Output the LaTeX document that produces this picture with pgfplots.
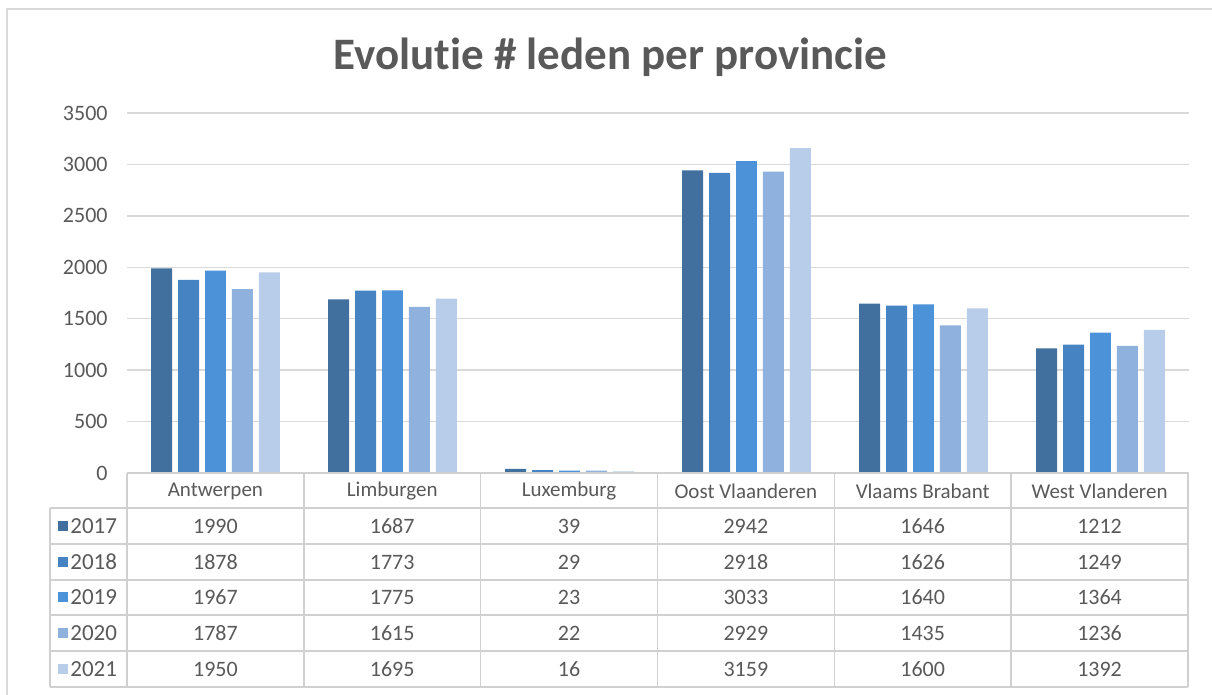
\documentclass[border=0pt]{standalone}
\usepackage{pgfplots}
\usepackage{pgfplotstable}
\pgfplotsset{compat=1.18}
\usepackage{fontspec}
\setmainfont{Carlito}[Ligatures=NoCommon]
\definecolor{c2017}{HTML}{41709F}
\definecolor{c2018}{HTML}{4683C3}
\definecolor{c2019}{HTML}{4C92D9}
\definecolor{c2020}{HTML}{8FB1DE}
\definecolor{c2021}{HTML}{B8CDE9}
\definecolor{txt}{HTML}{595959}
\definecolor{gridc}{HTML}{D9D9D9}
\definecolor{tabc}{HTML}{D0D0D0}
\pgfplotstableread[col sep=comma]{
idx,name,y2017,y2018,y2019,y2020,y2021
0,Antwerpen,1990,1878,1967,1787,1950
1,Limburgen,1687,1773,1775,1615,1695
2,Luxemburg,39,29,23,22,16
3,Oost Vlaanderen,2942,2918,3033,2929,3159
4,Vlaams Brabant,1646,1626,1640,1435,1600
5,West Vlanderen,1212,1249,1364,1236,1392
}\data
\begin{document}
\begin{tikzpicture}
\begin{scope}[x=0.5pt,y=-0.5pt,yshift=347.5pt]
\path[use as bounding box] (0,0) rectangle (1212,695);
\draw[gridc, line width=0.8pt] (7,695) -- (7,9) -- (1212,9);
\node[anchor=base, text=txt, font=\bfseries\fontsize{22.5}{26}\selectfont] at (610.5,69.3) {Evolutie \# leden per provincie};
\end{scope}
\begin{axis}[
  at={(63.5pt,111pt)}, anchor=south west,
  width=531pt, height=180pt, scale only axis,
  xmin=-0.5, xmax=5.5, ymin=0, ymax=3500,
  ytick={0,500,...,3500}, xtick=\empty,
  axis line style={draw=none},
  ymajorgrids, grid style={color=gridc, line width=0.7pt},
  major tick length=0pt,
  /pgf/number format/assume math mode=true,
  /pgf/number format/1000 sep={},
  yticklabel style={inner sep=0pt, xshift=-9.5pt, text=txt, font=\fontsize{11}{12}\selectfont},
  ybar, bar width=0.1186,
  clip=false,
]
\addplot[fill=c2017, draw=none, bar shift=-0.305] table[x=idx,y=y2017]{\data};
\addplot[fill=c2018, draw=none, bar shift=-0.1525] table[x=idx,y=y2018]{\data};
\addplot[fill=c2019, draw=none, bar shift=0] table[x=idx,y=y2019]{\data};
\addplot[fill=c2020, draw=none, bar shift=0.1525] table[x=idx,y=y2020]{\data};
\addplot[fill=c2021, draw=none, bar shift=0.305] table[x=idx,y=y2021]{\data};
\end{axis}
\begin{scope}[x=0.5pt,y=-0.5pt,yshift=347.5pt]
% table lines
\draw[tabc, line width=0.7pt] (127,473) -- (1188,473);
\foreach \yy in {508,544,580,615,651,687} \draw[tabc, line width=0.7pt] (50,\yy) -- (1188,\yy);
\foreach \i in {0,...,6} \draw[tabc, line width=0.7pt] ({127+\i*176.83},473) -- ({127+\i*176.83},687);
\draw[tabc, line width=0.7pt] (50,508) -- (50,687);
% header
\foreach \r in {0,...,5} {
  \pgfplotstablegetelem{\r}{name}\of\data
  \node[text=txt, font=\fontsize{10.5}{12}\selectfont] at ({215.4+\r*176.83},491) {\pgfplotsretval};
}
% rows
\foreach \yr/\yy in {2017/526,2018/562,2019/597.5,2020/633,2021/669} {
  \fill[c\yr] (58,\yy-5) rectangle (68,\yy+5);
  \node[anchor=west, inner sep=0pt, text=txt, font=\fontsize{11.5}{12}\selectfont] at (70,\yy) {\yr};
  \foreach \r in {0,...,5} {
    \pgfplotstablegetelem{\r}{y\yr}\of\data
    \node[text=txt, font=\fontsize{11}{12}\selectfont] at ({215.4+\r*176.83},\yy) {\pgfplotsretval};
  }
}
\end{scope}
\end{tikzpicture}
\end{document}
